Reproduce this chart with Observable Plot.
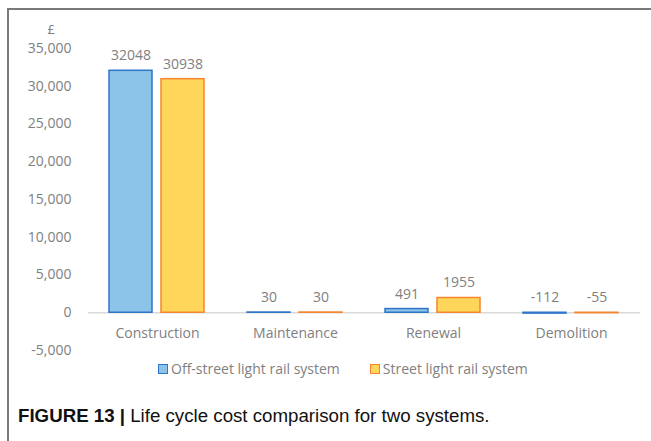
<!DOCTYPE html>
<html>
<head>
<meta charset="utf-8">
<script src="https://cdn.jsdelivr.net/npm/d3@7"></script>
<script src="https://cdn.jsdelivr.net/npm/@observablehq/plot@0.6"></script>
<style>
  html, body { margin: 0; padding: 0; background: #fff; }
  #wrap { position: relative; width: 651px; height: 441px; overflow: hidden; }
  #frame { position: absolute; left: 7px; top: 8px; right: -5px; bottom: -5px;
           border-top: 2px solid #7a7a7a; border-left: 2px solid #7a7a7a; }
  #chart { position: absolute; left: 0; top: 0; }
  #legend { position: absolute; left: 158px; top: 359px; font-family: "Open Sans", sans-serif;
            font-size: 14px; color: #808080; display: flex; align-items: center; white-space: nowrap; }
  #legend .item { display: flex; align-items: center; margin-right: 30px; }
  #legend .sw { width: 8px; height: 8px; border: 1.5px solid; margin-right: 3px; }
  #caption { position: absolute; left: 18px; top: 405px; font-family: "Liberation Sans", Arial, sans-serif;
             font-size: 18.7px; color: #111; white-space: nowrap; }
  #caption b { font-weight: bold; }
</style>
</head>
<body>
<div id="wrap">
  <div id="frame"></div>
  <div id="chart"></div>
  <div id="legend"></div>
  <div id="caption"><b>FIGURE 13 |</b> Life cycle cost comparison for two systems.</div>
</div>
<script>
const categories = ["Construction", "Maintenance", "Renewal", "Demolition"];
const series = ["Off-street light rail system", "Street light rail system"];
const offStreet = [32048, 30, 491, -112];
const street = [30938, 30, 1955, -55];
const fills = ["#8cc3e8", "#ffd55a"];
const strokes = ["#2f75c8", "#f5862f"];
const yTicks = [-5000, 0, 5000, 10000, 15000, 20000, 25000, 30000, 35000];
const unitLabel = ["£"];

const data = [];
categories.forEach((c, i) => {
  data.push({cat: c, s: series[0], v: offStreet[i]});
  data.push({cat: c, s: series[1], v: street[i]});
});

const txt = "#808080";
const chart = Plot.plot({
  width: 651,
  height: 360,
  marginLeft: 88,
  marginRight: 11,
  marginTop: 48,
  marginBottom: 10,
  style: {fontFamily: "'Open Sans', sans-serif", fontSize: "14px", color: txt, background: "transparent"},
  fx: {domain: categories, padding: 0, axis: null},
  x: {domain: series, paddingInner: 0.173, paddingOuter: 0.413, axis: null},
  y: {domain: [-5000, 35000], ticks: yTicks},
  color: {domain: series, range: fills},
  marks: [
    Plot.ruleY([0], {stroke: "#d9d9d9", strokeWidth: 1.5}),
    Plot.barY(data, {fx: "cat", x: "s", y: "v", fill: "s",
      stroke: d => strokes[series.indexOf(d.s)], strokeWidth: 1.5}),
    Plot.text(data, {fx: "cat", x: "s", y: d => Math.max(d.v, 0), text: d => String(d.v),
      dy: -15, fill: txt, fontSize: 14}),
    Plot.text(categories, {fx: d => d, text: d => d, frameAnchor: "bottom", dy: -17,
      lineAnchor: "middle", fill: txt, fontSize: 14}),
    Plot.axisY({ticks: yTicks, tickSize: 0, tickPadding: 17, tickFormat: d => d.toLocaleString("en-US"),
      label: null, color: txt, fontSize: 14}),
    Plot.text(unitLabel, {fx: () => categories[0], text: d => d, frameAnchor: "top-left", dx: -41, dy: -19,
      lineAnchor: "middle", fill: txt, fontSize: 13})
  ]
});
document.getElementById("chart").appendChild(chart);

const legend = document.getElementById("legend");
series.forEach((s, i) => {
  const item = document.createElement("div");
  item.className = "item";
  const sw = document.createElement("span");
  sw.className = "sw";
  sw.style.background = fills[i];
  sw.style.borderColor = strokes[i];
  item.appendChild(sw);
  const t = document.createElement("span");
  t.textContent = s;
  item.appendChild(t);
  legend.appendChild(item);
});
</script>
</body>
</html>
